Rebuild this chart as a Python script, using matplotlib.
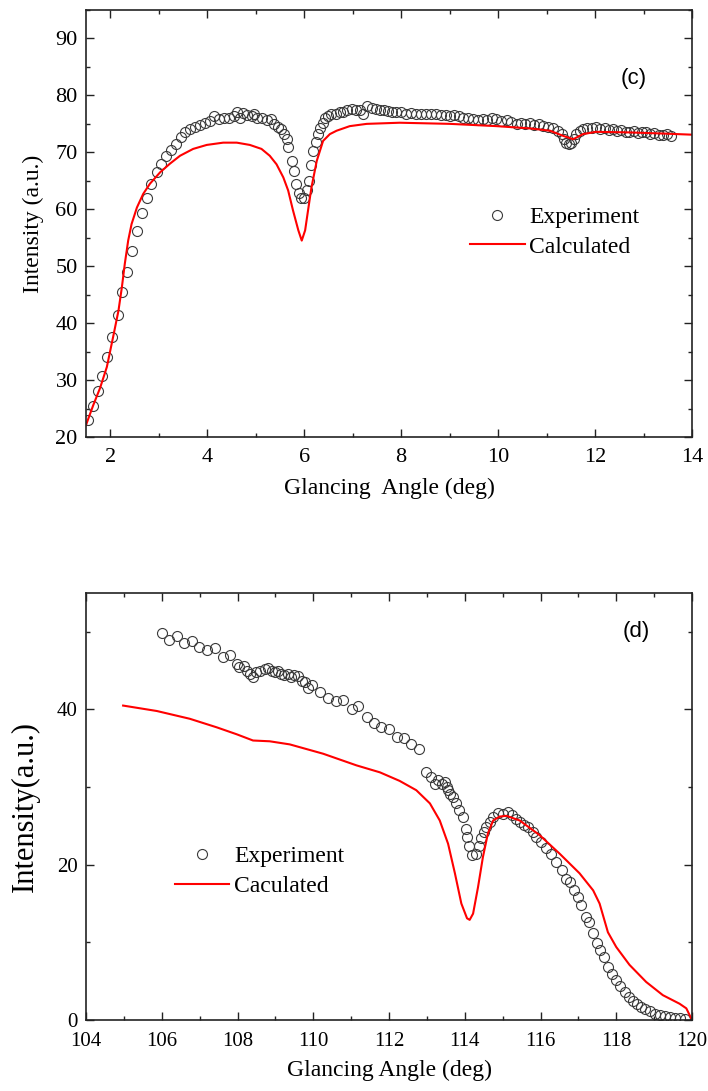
import matplotlib
matplotlib.use("Agg")
import matplotlib.pyplot as plt
from matplotlib.ticker import MultipleLocator

# ---------------- data: panel (c) ----------------
c_exp_x = [1.55, 1.64, 1.74, 1.84, 1.94, 2.04, 2.15, 2.25, 2.35, 2.45, 2.56, 2.65, 2.75, 2.85, 2.96,
           3.05, 3.15, 3.25, 3.35, 3.45, 3.55, 3.64, 3.75, 3.85, 3.95, 4.06, 4.15, 4.25, 4.35, 4.45,
           4.55, 4.62, 4.68, 4.74, 4.83, 4.93, 4.97, 5.03, 5.13, 5.24, 5.32, 5.37, 5.46, 5.53, 5.59,
           5.64, 5.67, 5.74, 5.80, 5.84, 5.89, 5.93, 6.00, 6.05, 6.10, 6.14, 6.19, 6.24, 6.29, 6.33,
           6.39, 6.43, 6.50, 6.56, 6.65, 6.74, 6.81, 6.89, 6.98, 7.07, 7.15, 7.22, 7.30, 7.39, 7.48,
           7.56, 7.64, 7.72, 7.81, 7.90, 8.00, 8.10, 8.20, 8.31, 8.41, 8.52, 8.62, 8.72, 8.83, 8.93,
           9.01, 9.10, 9.19, 9.28, 9.38, 9.48, 9.59, 9.68, 9.78, 9.87, 9.96, 10.06, 10.18, 10.27, 10.38,
           10.47, 10.56, 10.66, 10.75, 10.84, 10.93, 11.03, 11.14, 11.23, 11.31, 11.37, 11.41, 11.47, 11.51, 11.56,
           11.61, 11.68, 11.75, 11.84, 11.93, 12.02, 12.11, 12.20, 12.28, 12.37, 12.46, 12.54, 12.63, 12.71, 12.80,
           12.88, 12.97, 13.05, 13.14, 13.22, 13.31, 13.40, 13.48, 13.57]
c_exp_y = [22.9, 25.5, 28.1, 30.7, 34.1, 37.6, 41.5, 45.4, 48.9, 52.6, 56.1, 59.3, 62.0, 64.5, 66.5,
           67.9, 69.4, 70.4, 71.5, 72.7, 73.6, 74.1, 74.5, 74.8, 75.2, 75.5, 76.4, 75.9, 76.0, 76.1,
           76.4, 77.0, 76.0, 76.9, 76.6, 76.4, 76.7, 76.1, 76.0, 75.7, 75.8, 74.9, 74.5, 74.1, 73.3,
           72.4, 70.9, 68.5, 66.8, 64.5, 62.9, 62.0, 62.0, 63.3, 64.9, 67.8, 70.3, 71.8, 73.3, 74.3,
           75.2, 76.0, 76.4, 76.7, 76.8, 77.0, 77.1, 77.5, 77.6, 77.4, 77.5, 76.8, 78.1, 77.8, 77.6,
           77.4, 77.4, 77.2, 77.1, 77.1, 77.0, 76.8, 76.9, 76.8, 76.8, 76.7, 76.7, 76.7, 76.6, 76.6,
           76.4, 76.5, 76.3, 76.1, 76.0, 75.8, 75.6, 75.9, 75.7, 76.0, 75.8, 75.5, 75.6, 75.3, 74.9,
           75.2, 75.0, 75.2, 74.8, 74.9, 74.6, 74.4, 74.2, 73.8, 73.2, 72.4, 71.7, 71.5, 71.7, 72.3,
           73.2, 73.8, 74.1, 74.3, 74.2, 74.4, 74.1, 74.3, 73.9, 74.1, 73.8, 73.9, 73.6, 73.5, 73.7,
           73.4, 73.6, 73.5, 73.2, 73.4, 73.1, 73.0, 73.2, 72.9]

c_calc_x = [1.50, 1.65, 1.79, 1.93, 2.06, 2.17, 2.24, 2.30, 2.37, 2.44, 2.55, 2.68, 2.82, 3.03, 3.23,
            3.44, 3.71, 3.99, 4.33, 4.61, 4.88, 5.12, 5.29, 5.43, 5.57, 5.67, 5.77, 5.88, 5.95, 6.02,
            6.08, 6.15, 6.26, 6.39, 6.53, 6.67, 6.94, 7.29, 7.97, 9.01, 9.97, 10.66, 11.07, 11.34, 11.55,
            11.75, 12.02, 12.71, 13.40, 14.00]
c_calc_y = [22.1, 25.6, 28.6, 32.3, 37.6, 42.2, 46.3, 50.4, 54.5, 57.4, 60.3, 62.7, 64.5, 66.5, 68.0,
            69.4, 70.6, 71.3, 71.7, 71.7, 71.3, 70.6, 69.4, 67.9, 65.6, 63.3, 59.8, 56.3, 54.5, 56.3,
            59.8, 63.8, 68.5, 72.0, 73.2, 73.8, 74.6, 75.0, 75.2, 75.0, 74.6, 74.2, 73.8, 72.9, 72.3,
            73.2, 73.6, 73.5, 73.3, 73.1]

c_xticks = [2, 4, 6, 8, 10, 12, 14]
c_yticks = [20, 30, 40, 50, 60, 70, 80, 90]

# ---------------- data: panel (d) ----------------
d_exp_x = [106.0, 106.2, 106.41, 106.59, 106.79, 106.99, 107.2, 107.4, 107.61, 107.8, 107.99, 108.04,
           108.16, 108.24, 108.34, 108.41, 108.5, 108.6, 108.72, 108.81, 108.9, 108.98, 109.07, 109.15,
           109.24, 109.33, 109.42, 109.5, 109.59, 109.69, 109.78, 109.87, 109.96, 110.17, 110.39, 110.6,
           110.79, 111.01, 111.19, 111.41, 111.6, 111.8, 112.0, 112.2, 112.39, 112.59, 112.79,
           112.99, 113.12, 113.21, 113.3, 113.39, 113.47, 113.52, 113.56, 113.62, 113.69, 113.76, 113.85,
           113.95, 114.03, 114.06, 114.11, 114.2, 114.31, 114.38, 114.44, 114.5, 114.57, 114.66, 114.75,
           114.88, 115.01, 115.14, 115.26, 115.36, 115.45, 115.56, 115.67, 115.79, 115.89, 116.02, 116.15,
           116.29, 116.42, 116.58, 116.68, 116.78, 116.88, 116.99, 117.08, 117.19, 117.28, 117.39, 117.49,
           117.58, 117.68, 117.78, 117.89, 118.0, 118.1, 118.22, 118.33, 118.44, 118.55, 118.66, 118.77,
           118.88, 119.01, 119.15, 119.28, 119.41, 119.54, 119.68, 119.81]
d_exp_y = [49.9, 48.9, 49.4, 48.5, 48.8, 48.1, 47.6, 47.9, 46.8, 47.0, 45.8, 45.5,
           45.6, 44.9, 44.6, 44.2, 44.8, 44.9, 45.2, 45.3, 45.0, 44.8, 44.9, 44.6,
           44.4, 44.6, 44.2, 44.4, 44.3, 43.7, 43.5, 42.8, 43.2, 42.2, 41.5, 41.1,
           41.2, 40.1, 40.5, 39.0, 38.3, 37.7, 37.5, 36.5, 36.3, 35.6, 34.9,
           31.9, 31.3, 30.4, 30.9, 30.4, 30.6, 30.0, 29.6, 29.1, 28.7, 27.9, 27.0,
           26.1, 24.6, 23.6, 22.4, 21.2, 21.4, 22.4, 23.4, 24.2, 24.8, 25.5, 26.1,
           26.6, 26.5, 26.8, 26.4, 25.9, 25.5, 25.1, 24.8, 24.2, 23.6, 22.9, 22.2,
           21.4, 20.3, 19.3, 18.2, 17.8, 16.7, 15.8, 14.8, 13.3, 12.6, 11.2, 9.9,
           9.0, 8.1, 6.8, 5.9, 5.1, 4.4, 3.6, 3.0, 2.5, 2.0, 1.7, 1.4,
           1.1, 0.8, 0.6, 0.5, 0.4, 0.3, 0.2, 0.15]

d_calc_x = [104.98, 105.87, 106.74, 107.45, 107.98, 108.41, 108.85, 109.38, 110.26, 111.14, 111.76,
            112.28, 112.72, 113.08, 113.34, 113.56, 113.74, 113.91, 114.06, 114.13, 114.22, 114.35,
            114.48, 114.61, 114.75, 114.92, 115.1, 115.45, 115.98, 116.51, 117.03, 117.39, 117.56,
            117.78, 118.0, 118.35, 118.79, 119.23, 119.67, 119.85, 119.98]
d_calc_y = [40.5, 39.8, 38.8, 37.7, 36.8, 36.0, 35.9, 35.5, 34.3, 32.8, 31.9,
            30.8, 29.6, 27.9, 25.7, 22.7, 18.9, 15.0, 13.1, 12.9, 13.7, 17.1,
            21.0, 24.0, 25.7, 26.2, 26.3, 25.7, 23.8, 21.4, 18.9, 16.7, 15.0,
            11.3, 9.4, 7.1, 4.9, 3.2, 2.1, 1.5, 0.2]

d_xticks = [104, 106, 108, 110, 112, 114, 116, 118, 120]
d_yticks = [0, 20, 40]

# ---------------- figure ----------------
SERIF = "Liberation Serif"
SANS = "Liberation Sans"
W, H = 708, 1091
fig = plt.figure(figsize=(W / 100, H / 100), dpi=100)

ax1 = fig.add_axes([86 / W, 1 - 437 / H, 606 / W, 427 / H])
ax2 = fig.add_axes([86 / W, 1 - 1020 / H, 606 / W, 427 / H])

exp_style = dict(linestyle="none", marker="o", markersize=7.2, markerfacecolor="none",
                 markeredgecolor="#3a3a3a", markeredgewidth=0.8)

def style_axes(ax, tick_size, xpad, ypad):
    for s in ax.spines.values():
        s.set_linewidth(1.2)
        s.set_color("#222222")
    ax.tick_params(which="both", direction="in", top=True, right=True,
                   labelsize=tick_size, width=1.0, color="#222222")
    ax.tick_params(which="major", length=6)
    ax.tick_params(which="minor", length=3)
    ax.tick_params(axis="x", pad=xpad)
    ax.tick_params(axis="y", pad=ypad)
    for lab in ax.get_xticklabels() + ax.get_yticklabels():
        lab.set_fontfamily(SERIF)

# panel (c)
ax1.plot(c_exp_x, c_exp_y, label="Experiment", **exp_style)
ax1.plot(c_calc_x, c_calc_y, color="#ff0000", linewidth=1.5, label="Calculated")
ax1.set_xlim(1.5, 14)
ax1.set_ylim(20, 95)
ax1.set_xticks(c_xticks)
ax1.set_yticks(c_yticks)
ax1.xaxis.set_minor_locator(MultipleLocator(1))
ax1.yaxis.set_minor_locator(MultipleLocator(5))
style_axes(ax1, 16, 8, 6)
ax1.set_xlabel("Glancing  Angle (deg)", fontfamily=SERIF, fontsize=17, labelpad=8)
ax1.set_ylabel("Intensity (a.u.)", fontfamily=SERIF, fontsize=17, labelpad=8)
ax1.text(0.903, 0.84, "(c)", transform=ax1.transAxes, fontfamily=SANS, fontsize=16,
         ha="center", va="center")
ax1.legend(loc="upper left", bbox_to_anchor=(0.634, 0.54), frameon=False, numpoints=1,
           prop={"family": SERIF, "size": 17}, borderpad=0, borderaxespad=0,
           handlelength=2.3, handletextpad=0.2, labelspacing=0.35)

# panel (d)
ax2.plot(d_exp_x, d_exp_y, label="Experiment", **exp_style)
ax2.plot(d_calc_x, d_calc_y, color="#ff0000", linewidth=1.5, label="Caculated")
ax2.set_xlim(104, 120)
ax2.set_ylim(0, 55)
ax2.set_xticks(d_xticks)
ax2.set_yticks(d_yticks)
ax2.xaxis.set_minor_locator(MultipleLocator(1))
ax2.yaxis.set_minor_locator(MultipleLocator(10))
style_axes(ax2, 15, 9, 6)
ax2.set_xlabel("Glancing Angle (deg)", fontfamily=SERIF, fontsize=17, labelpad=6)
ax2.set_ylabel("Intensity(a.u.)", fontfamily=SERIF, fontsize=22, labelpad=12)
ax2.text(0.908, 0.909, "(d)", transform=ax2.transAxes, fontfamily=SANS, fontsize=16,
         ha="center", va="center")
ax2.legend(loc="upper left", bbox_to_anchor=(0.147, 0.408), frameon=False, numpoints=1,
           prop={"family": SERIF, "size": 17}, borderpad=0, borderaxespad=0,
           handlelength=2.3, handletextpad=0.2, labelspacing=0.35)

fig.savefig("out.png", dpi=100)
